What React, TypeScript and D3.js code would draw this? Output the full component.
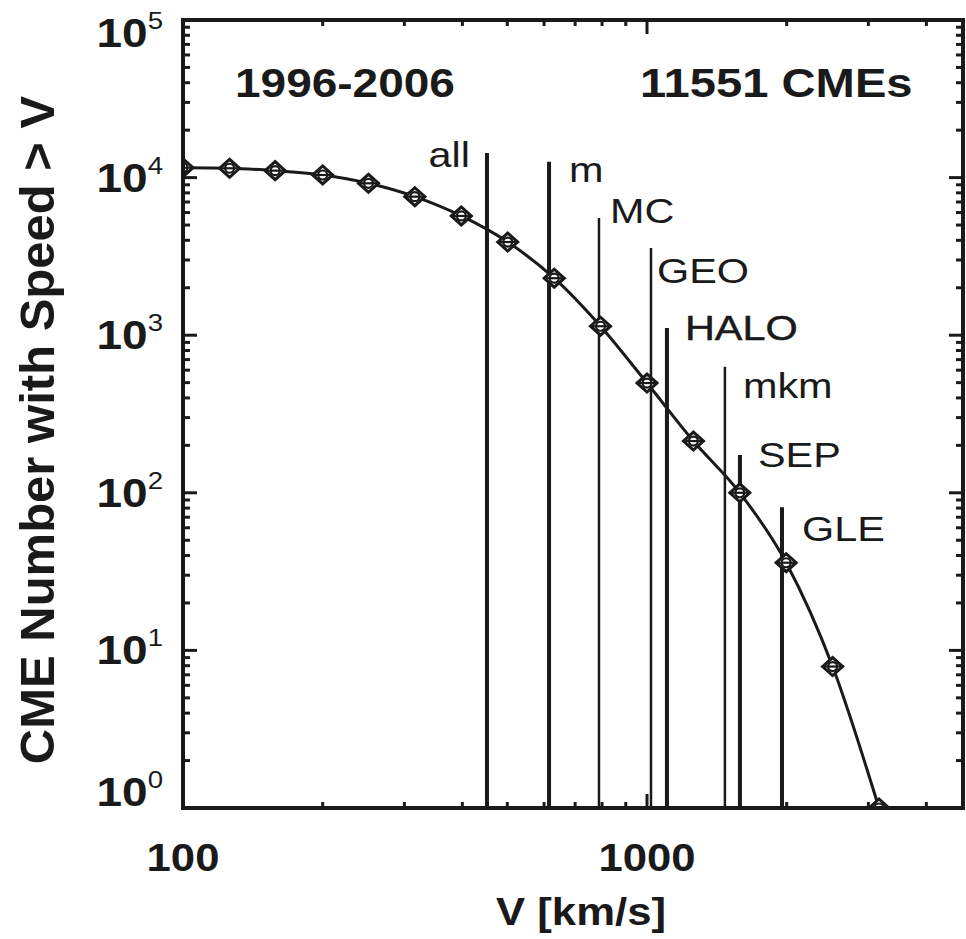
import React from "react";
import * as d3 from "d3";

// ---- data ----
const speeds = [100, 126, 158, 200, 251, 316, 398, 501, 631, 794, 1000, 1259, 1585, 1995, 2512, 3162];
const counts = [11551, 11460, 11070, 10390, 9200, 7570, 5710, 3900, 2300, 1140, 497, 213, 100, 36, 7.9, 1];

const thresholdNames = ["all", "m", "MC", "GEO", "HALO", "mkm", "SEP", "GLE"];
const thresholdSpeeds = [452, 615, 788, 1020, 1104, 1472, 1586, 1954];
const thresholdTops = [14300, 12600, 5540, 3575, 1110, 630, 174, 81];

const yTickExps = [0, 1, 2, 3, 4, 5];
const xTickLabels = [100, 1000];
const periodLabel = "1996-2006";
const totalLabel = "11551 CMEs";
const xTitle = "V [km/s]";
const yTitle = "CME Number with Speed > V";

// ---- layout / style ----
const W = 966, H = 939;
const L = 183, R = 963, T = 20, B = 808;
const thresholdWidths = [4, 4, 2.5, 2.5, 4, 2.5, 4, 4];
const labelDx = [-17, 20, 11, 6, 18, 18, 18, 20];
const labelDy = [14, 20, 5, 35, 12, 31, 12, 34];
const FONT = "'Liberation Sans', Arial, Helvetica, sans-serif";
const SX = 1.15;
const INK = "#1a1a1a";

function SText({ x, y, children, size, weight = "normal", anchor = "start", extra = {} }: any) {
  return (
    <text
      transform={`translate(${x},${y}) scale(${SX},1)`}
      fontFamily={FONT}
      fontSize={size}
      fontWeight={weight}
      textAnchor={anchor}
      fill={INK}
      {...extra}
    >
      {children}
    </text>
  );
}

export default function App() {
  const xMax = Math.pow(10, 2 + (R - L) / 464);
  const x = d3.scaleLog().domain([100, xMax]).range([L, R]);
  const y = d3.scaleLog().domain([1, 1e5]).range([B, T]);

  const pts = speeds.map((s, i) => [x(s), y(counts[i])] as [number, number]);
  const line = d3.line().curve(d3.curveMonotoneX)(pts) as string;

  const xTicks = x.ticks();
  const yTicks = y.ticks();
  const isMajor = (v: number) => Math.abs(Math.log10(v) - Math.round(Math.log10(v))) < 1e-6;

  return (
    <div style={{ position: "absolute", left: 0, top: 0 }}>
      <svg width={W} height={H} style={{ display: "block", background: "#fff" }}>
        <defs>
          <clipPath id="plot">
            <rect x={L} y={T - 2} width={R - L} height={B - T + 2} />
          </clipPath>
        </defs>

        {/* threshold lines */}
        {thresholdSpeeds.map((s, i) => (
          <line
            key={"th" + i}
            x1={x(s)}
            x2={x(s)}
            y1={y(thresholdTops[i])}
            y2={B}
            stroke={INK}
            strokeWidth={thresholdWidths[i]}
          />
        ))}
        {thresholdNames.map((n, i) => (
          <SText
            key={"tl" + i}
            x={x(thresholdSpeeds[i]) + labelDx[i]}
            y={y(thresholdTops[i]) + labelDy[i]}
            size={36}
            anchor={i === 0 ? "end" : "start"}
            extra={n === "HALO" ? { stroke: INK, strokeWidth: 0.5 } : {}}
          >
            {n}
          </SText>
        ))}

        {/* curve + markers */}
        <g clipPath="url(#plot)">
          <path d={line} fill="none" stroke={INK} strokeWidth={3} />
          {pts.map(([px, py], i) => (
            <g key={"m" + i}>
              <path
                d={`M${px - 10},${py} L${px},${py - 9} L${px + 10},${py} L${px},${py + 9} Z`}
                fill="#fff"
                stroke={INK}
                strokeWidth={3}
              />
              <circle cx={px} cy={py} r={4.5} fill="#fff" stroke={INK} strokeWidth={2.2} />
              <line x1={px - 11} x2={px + 11} y1={py} y2={py} stroke={INK} strokeWidth={2.2} />
            </g>
          ))}
        </g>

        {/* frame */}
        <rect x={L} y={T} width={R - L} height={B - T} fill="none" stroke={INK} strokeWidth={4} />

        {/* x ticks */}
        {xTicks.map((t, i) => {
          const len = isMajor(t) ? 14 : 6;
          return (
            <g key={"xt" + i}>
              <line x1={x(t)} x2={x(t)} y1={B} y2={B - len} stroke={INK} strokeWidth={3} />
              <line x1={x(t)} x2={x(t)} y1={T} y2={T + len} stroke={INK} strokeWidth={3} />
            </g>
          );
        })}
        {/* y ticks */}
        {yTicks.map((t, i) => {
          const len = isMajor(t) ? 14 : 7;
          return (
            <g key={"yt" + i}>
              <line x1={L} x2={L + len} y1={y(t)} y2={y(t)} stroke={INK} strokeWidth={3} />
              <line x1={R} x2={R - len} y1={y(t)} y2={y(t)} stroke={INK} strokeWidth={3} />
            </g>
          );
        })}

        {/* x tick labels */}
        {xTickLabels.map((v) => (
          <SText key={"xl" + v} x={x(v)} y={871} size={38} weight="bold" anchor="middle">
            {String(v)}
          </SText>
        ))}

        {/* y tick labels */}
        {yTickExps.map((e) => {
          const yy = Math.min(Math.max(y(Math.pow(10, e)), 33), 792);
          return (
            <SText key={"yl" + e} x={163} y={yy + 14} size={40} weight="bold" anchor="end">
              10
              <tspan dy={-18} fontSize={24} fontWeight="normal">
                {String(e)}
              </tspan>
            </SText>
          );
        })}

        {/* titles */}
        <SText x={581} y={925} size={38} weight="bold" anchor="middle">
          {xTitle}
        </SText>
        <text
          transform={`translate(54,${(T + B) / 2 + 16}) rotate(-90)`}
          fontFamily={FONT}
          fontSize={49}
          fontWeight="bold"
          textAnchor="middle"
          fill={INK}
        >
          {yTitle}
        </text>

        {/* annotations */}
        <SText x={235} y={97} size={40} weight="bold">
          {periodLabel}
        </SText>
        <SText x={640} y={97} size={41} weight="bold">
          {totalLabel}
        </SText>
      </svg>
    </div>
  );
}
